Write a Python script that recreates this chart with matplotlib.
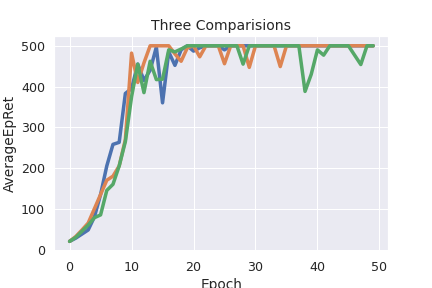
import matplotlib
matplotlib.use("Agg")
import matplotlib.pyplot as plt
import seaborn as sns
import numpy as np

epochs = list(range(50))

series_a = [20, 28, 38, 48, 80, 135, 205, 258, 263, 383,
            395, 455, 415, 440, 497, 360, 485, 452, 490, 500,
            487, 495, 500, 500, 500, 490, 500, 500, 500, 500,
            500, 500, 500, 500, 500, 500, 500, 500, 500, 500,
            500, 500, 500, 500, 500, 500, 500, 500, 500, 500]

series_b = [20, 32, 48, 65, 100, 135, 170, 180, 205, 270,
            482, 410, 458, 500, 500, 500, 500, 480, 462, 495,
            500, 473, 500, 500, 500, 456, 500, 500, 500, 447,
            500, 500, 500, 500, 449, 500, 500, 500, 500, 500,
            500, 500, 500, 500, 500, 500, 500, 500, 500, 500]

series_c = [20, 30, 45, 60, 78, 85, 145, 160, 205, 265,
            375, 455, 385, 462, 417, 418, 490, 485, 492, 500,
            500, 500, 500, 500, 500, 500, 500, 500, 455, 500,
            500, 500, 500, 500, 500, 500, 500, 500, 388, 430,
            490, 477, 500, 500, 500, 500, 477, 454, 500, 500]

sns.set_theme(style="darkgrid")

fig = plt.figure(figsize=(6, 4), dpi=72)
ax = fig.add_axes([0.126, 0.128, 0.773, 0.747])

for s in (series_a, series_b, series_c):
    ax.plot(epochs, s, linewidth=3.5)

ax.set_title("Three Comparisions", fontsize=14)
ax.set_xlabel("Epoch", fontsize=13.7)
ax.set_ylabel("AverageEpRet", fontsize=13.7)
ax.tick_params(labelsize=12.6)
ax.set_xticks([0, 10, 20, 30, 40, 50])
ax.set_yticks([0, 100, 200, 300, 400, 500])

fig.savefig("out.png", dpi=72)
